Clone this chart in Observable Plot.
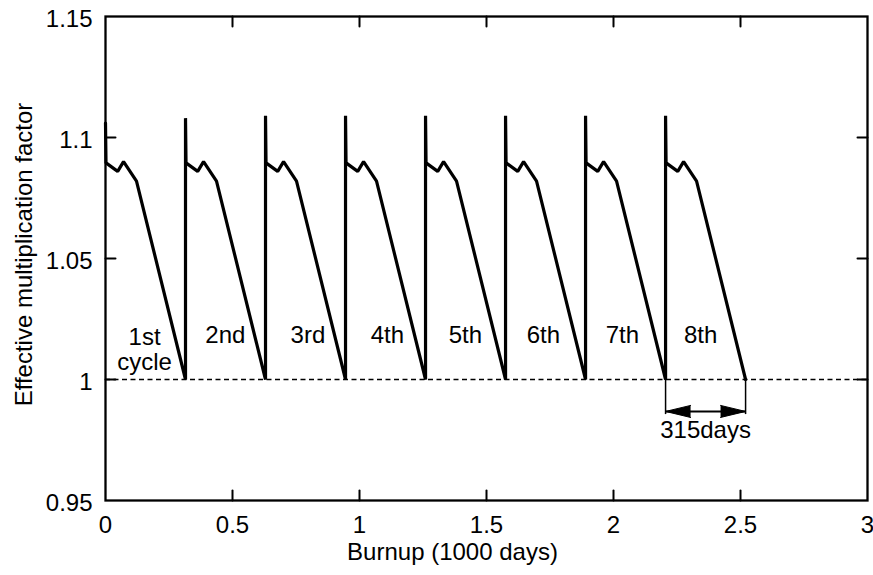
<!DOCTYPE html>
<html>
<head>
<meta charset="utf-8">
<script src="https://cdn.jsdelivr.net/npm/d3@7"></script>
<script src="https://cdn.jsdelivr.net/npm/@observablehq/plot@0.6"></script>
<style>
  html, body { margin: 0; padding: 0; background: #fff; }
  #chart svg { display: block; }
</style>
</head>
<body>
<div id="chart"></div>
<script>
// Burnup (1000 days) and effective multiplication factor
const burnup = [
  0.000, 0.002, 0.048, 0.071, 0.122, 0.315,
  0.315, 0.317, 0.363, 0.386, 0.437, 0.630,
  0.630, 0.632, 0.678, 0.701, 0.752, 0.945,
  0.945, 0.947, 0.993, 1.016, 1.067, 1.260,
  1.260, 1.262, 1.308, 1.331, 1.382, 1.575,
  1.575, 1.577, 1.623, 1.646, 1.697, 1.890,
  1.890, 1.892, 1.938, 1.961, 2.012, 2.205,
  2.205, 2.207, 2.253, 2.276, 2.327, 2.520
];
const keff = [
  1.106, 1.0895, 1.086, 1.090, 1.082, 1.000,
  1.108, 1.0895, 1.086, 1.090, 1.082, 1.000,
  1.109, 1.0895, 1.086, 1.090, 1.082, 1.000,
  1.109, 1.0895, 1.086, 1.090, 1.082, 1.000,
  1.109, 1.0895, 1.086, 1.090, 1.082, 1.000,
  1.109, 1.0895, 1.086, 1.090, 1.082, 1.000,
  1.109, 1.0895, 1.086, 1.090, 1.082, 1.000,
  1.109, 1.0895, 1.086, 1.090, 1.082, 1.000
];

const cycleLabels = ["1st\ncycle", "2nd", "3rd", "4th", "5th", "6th", "7th", "8th"];
const cycleLabelX = [0.154, 0.472, 0.797, 1.110, 1.417, 1.724, 2.035, 2.343];
const cycleLabelY = [1.0122, 1.0182, 1.0182, 1.0182, 1.0182, 1.0182, 1.0182, 1.0182];

const criticalK = [1.0];
const spanStart = [2.205];
const spanEnd = [2.52];
const spanK = [0.9868];
const spanBottom = [0.9855];
const spanLabel = ["315days"];
const spanLabelX = [2.3625];
const spanLabelY = [0.9792];

const xTicks = [0, 0.5, 1, 1.5, 2, 2.5, 3];
const xTickLabels = ["0", "0.5", "1", "1.5", "2", "2.5", "3"];
const yTicks = [0.95, 1.0, 1.05, 1.1, 1.15];
const yTickLabels = ["0.95", "1", "1.05", "1.1", "1.15"];
const xInnerTicks = [0.5, 1, 1.5, 2, 2.5];
const yInnerTicks = [1.0, 1.05, 1.1];

const xLabel = "Burnup (1000 days)";
const yLabel = "Effective multiplication factor";

const curve = burnup.map((b, i) => ({burnup: b, keff: keff[i]}));
const labels = cycleLabels.map((t, i) => ({text: t, x: cycleLabelX[i], y: cycleLabelY[i]}));

const tickShape = {draw(context, l) { context.moveTo(0, 0); context.lineTo(0, -l); }};
const FONT = "'Liberation Sans', Arial, Helvetica, sans-serif";

const chart = Plot.plot({
  width: 873,
  height: 575,
  marginLeft: 105,
  marginRight: 6,
  marginTop: 16,
  marginBottom: 75,
  style: {fontFamily: FONT, background: "#fff", color: "#000"},
  x: {domain: [0, 3]},
  y: {domain: [0.95, 1.15]},
  marks: [
    Plot.ruleY(criticalK, {stroke: "#000", strokeWidth: 1.3, strokeDasharray: "5,3.5"}),
    Plot.line(curve, {x: "burnup", y: "keff", stroke: "#000", strokeWidth: 3.2, strokeLinejoin: "miter"}),
    Plot.frame({stroke: "#000", strokeWidth: 2.3}),
    // inward ticks
    Plot.vector(xInnerTicks, {x: d => d, y: 0.95, length: 10, rotate: 0, anchor: "start", shape: tickShape, stroke: "#000", strokeWidth: 2}),
    Plot.vector(xInnerTicks, {x: d => d, y: 1.15, length: 10, rotate: 180, anchor: "start", shape: tickShape, stroke: "#000", strokeWidth: 2}),
    Plot.vector(yInnerTicks, {x: 0, y: d => d, length: 10, rotate: 90, anchor: "start", shape: tickShape, stroke: "#000", strokeWidth: 2}),
    Plot.vector(yInnerTicks, {x: 3, y: d => d, length: 10, rotate: -90, anchor: "start", shape: tickShape, stroke: "#000", strokeWidth: 2}),
    // axes labels
    Plot.axisX(xTicks, {tickSize: 0, tickPadding: 15, fontSize: 24, tickFormat: (d, i) => xTickLabels[i], label: null}),
    Plot.axisY(yTicks, {tickSize: 0, tickPadding: 13, dy: 3, fontSize: 24, tickFormat: (d, i) => yTickLabels[i], label: null}),
    Plot.text([xLabel], {frameAnchor: "bottom", textAnchor: "middle", dx: -34, dy: 52, fontSize: 24, lineAnchor: "middle", fill: "#000"}),
    Plot.text([yLabel], {frameAnchor: "left", textAnchor: "middle", rotate: -90, dx: -81, dy: -4, fontSize: 24, lineAnchor: "middle", fill: "#000"}),
    // cycle labels
    Plot.text(labels, {x: "x", y: "y", text: "text", fontSize: 24, lineHeight: 1.04, lineAnchor: "middle", fill: "#000"}),
    // 315 days span
    Plot.ruleX(spanStart, {y1: criticalK[0], y2: spanBottom[0], stroke: "#000", strokeWidth: 1.5}),
    Plot.ruleX(spanEnd, {y1: criticalK[0], y2: spanBottom[0], stroke: "#000", strokeWidth: 1.5}),
    Plot.ruleY(spanK, {x1: spanStart[0], x2: spanEnd[0], stroke: "#000", strokeWidth: 2}),
    Plot.vector(spanStart, {x: d => d, y: spanK[0], length: 25, r: 6, rotate: -90, anchor: "end", shape: "spike", fill: "#000", stroke: "#000", strokeWidth: 1}),
    Plot.vector(spanEnd, {x: d => d, y: spanK[0], length: 25, r: 6, rotate: 90, anchor: "end", shape: "spike", fill: "#000", stroke: "#000", strokeWidth: 1}),
    Plot.text(spanLabel, {x: spanLabelX[0], y: spanLabelY[0], fontSize: 24, lineAnchor: "middle", fill: "#000"})
  ]
});
document.getElementById("chart").appendChild(chart);
</script>
</body>
</html>
